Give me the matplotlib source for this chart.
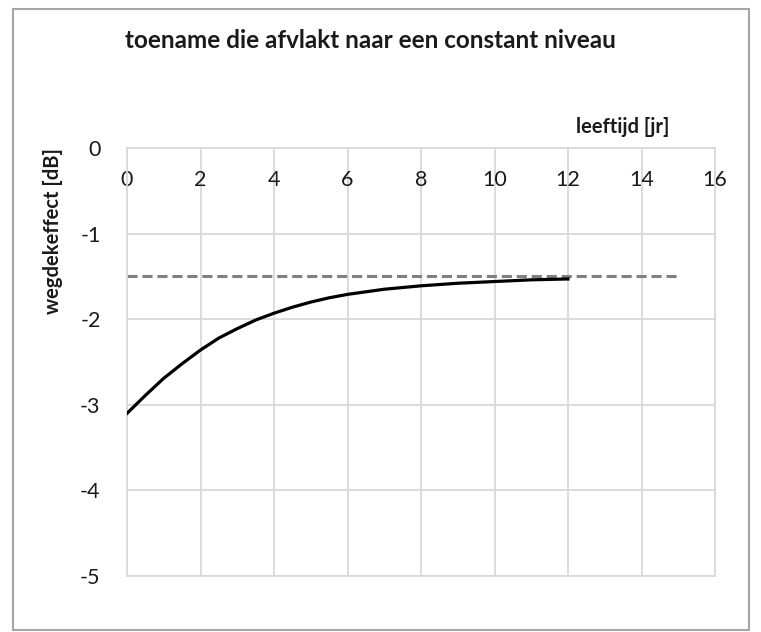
import matplotlib.pyplot as plt
from matplotlib.patches import Rectangle

# leeftijd [jr] en wegdekeffect [dB]
leeftijd = [0, 0.5, 1, 1.5, 2, 2.5, 3, 3.5, 4, 4.5, 5, 5.5, 6, 7, 8, 9, 10, 11, 12]
effect = [-3.10, -2.89, -2.69, -2.52, -2.36, -2.22, -2.11, -2.01, -1.93, -1.86,
          -1.80, -1.75, -1.71, -1.65, -1.61, -1.58, -1.56, -1.54, -1.53]

# constant niveau
niveau_x = [0, 15]
niveau_y = [-1.5, -1.5]

xticks = [0, 2, 4, 6, 8, 10, 12, 14, 16]
yticks = [0, -1, -2, -3, -4, -5]

plt.rcParams['font.family'] = ['Lato', 'DejaVu Sans']

fig = plt.figure(figsize=(7.61, 6.32), dpi=100)
ax = fig.add_axes([127 / 761, 1 - 576 / 632, 588 / 761, 428 / 632])

ax.plot(leeftijd, effect, color='black', lw=2.3, solid_joinstyle='round', zorder=3)
ax.plot(niveau_x, niveau_y, color='#808080', lw=2.2, dashes=(3.3, 1.6), zorder=2)

ax.set_xlim(0, 16)
ax.set_ylim(-5, 0)
ax.set_xticks(xticks)
ax.set_yticks(yticks)
ax.set_yticklabels([str(v) for v in yticks])
ax.grid(True, color='#d9d9d9', lw=1.3)
ax.set_axisbelow(True)
for s in ax.spines.values():
    s.set_color('#d9d9d9')
    s.set_linewidth(1.3)

ax.xaxis.tick_top()
ax.tick_params(axis='x', length=0, labelsize=15.5, pad=-30, colors='#1a1a1a')
ax.tick_params(axis='y', length=0, labelsize=15.5, pad=19, colors='#1a1a1a')

fig.text(370 / 761, 1 - 40 / 632, 'toename die afvlakt naar een constant niveau',
         ha='center', va='center', fontsize=17.5, fontweight='bold', color='#1a1a1a')
fig.text(623 / 761, 1 - 127 / 632, 'leeftijd [jr]', ha='center', va='center',
         fontsize=14.5, fontweight='bold', color='#1a1a1a')
fig.text(53 / 761, 1 - 231 / 632, 'wegdekeffect [dB]', ha='center', va='center',
         rotation=90, fontsize=14.5, fontweight='bold', color='#1a1a1a')

# rand om de figuur
fig.patches.append(Rectangle((13 / 761, 2 / 632), 736 / 761, 621 / 632,
                             transform=fig.transFigure, fill=False,
                             edgecolor='#a6a6a6', lw=1.5))

fig.savefig('out.png', dpi=100)
